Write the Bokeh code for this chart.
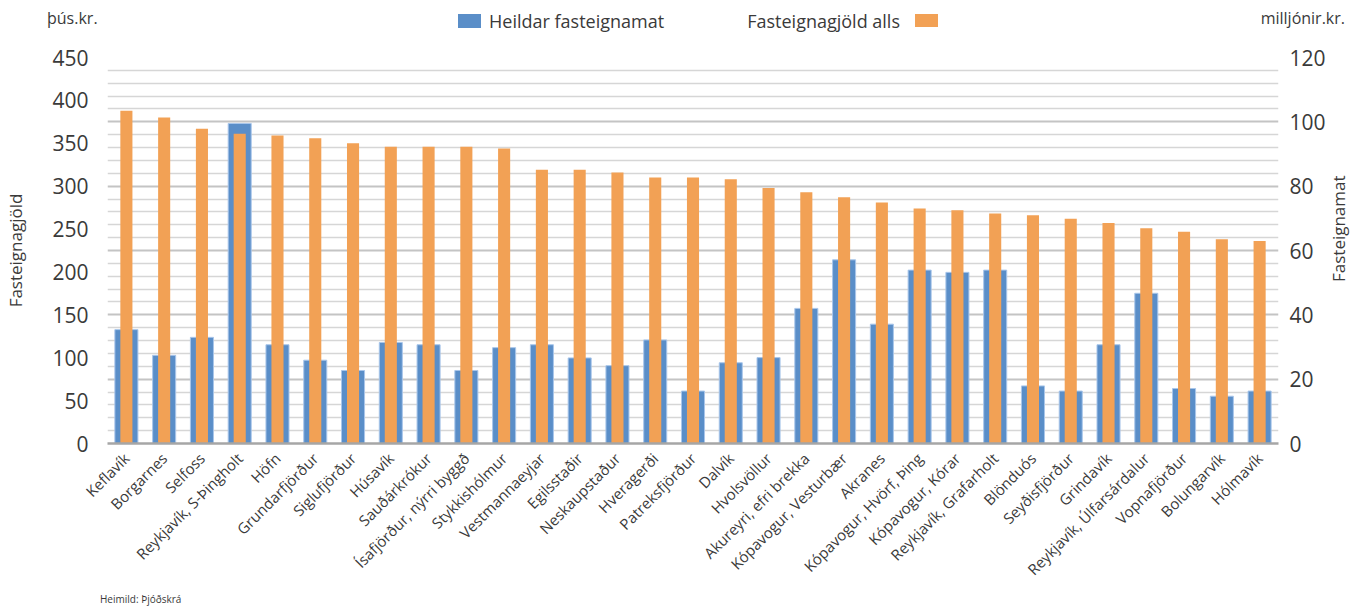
import math
from bokeh.plotting import figure
from bokeh.layouts import column, row
from bokeh.models import FactorRange, Range1d, LinearAxis, FixedTicker, Grid, Div
from bokeh.embed import file_html
from bokeh.resources import INLINE

categories = [
    "Keflavík", "Borgarnes", "Selfoss", "Reykjavík, S-Þingholt", "Höfn",
    "Grundarfjörður", "Siglufjörður", "Húsavík", "Sauðárkrókur",
    "Ísafjörður, nýrri byggð", "Stykkishólmur", "Vestmannaeyjar", "Egilsstaðir",
    "Neskaupstaður", "Hveragerði", "Patreksfjörður", "Dalvík", "Hvolsvöllur",
    "Akureyri, efri brekka", "Kópavogur, Vesturbær", "Akranes",
    "Kópavogur, Hvörf, Þing", "Kópavogur, Kórar", "Reykjavík, Grafarholt",
    "Blönduós", "Seyðisfjörður", "Grindavík", "Reykjavík, Úlfarsárdalur",
    "Vopnafjörður", "Bolungarvík", "Hólmavík",
]

# Fasteignagjöld alls (þús.kr., left axis)
fasteignagjold = [388, 380, 367, 361, 359, 356, 350, 346, 346, 346, 344,
                  319, 319, 316, 310, 310, 308, 298, 293, 287, 281,
                  274, 272, 268, 266, 262, 257, 251, 247, 238, 236]

# Heildar fasteignamat (milljónir kr., right axis)
fasteignamat = [35.4, 27.4, 33.0, 99.5, 30.7, 25.9, 22.7, 31.4, 30.7, 22.7, 29.8,
                30.7, 26.6, 24.2, 32.2, 16.3, 25.1, 26.7, 42.0, 57.1, 37.1,
                53.9, 53.2, 53.9, 17.9, 16.3, 30.7, 46.7, 17.1, 14.7, 16.3]

left_ticks = [0, 50, 100, 150, 200, 250, 300, 350, 400, 450]
right_ticks = [0, 20, 40, 60, 80, 100, 120]

series_names = ["Heildar fasteignamat", "Fasteignagjöld alls"]
left_unit = "þús.kr."
right_unit = "milljónir.kr."
left_title = "Fasteignagjöld"
right_title = "Fasteignamat"
source_note = "Heimild: Þjóðskrá"

BLUE = "#5A8EC8"
BLUE_EDGE = "#A9C6EA"
ORANGE = "#F2A155"
TXT = "#3a3a3a"
FONT = "Open Sans"

W = 1350
HEAD_H = 40
MAIN_H = 553
FOOT_H = 606 - HEAD_H - MAIN_H
RIGHT_W = 22
MAIN_W = W - RIGHT_W


def span(text, left=None, right=None, top=0, size=16):
    pos = f"left:{left}px;" if left is not None else f"right:{right}px;"
    return (f'<span style="position:absolute;{pos}top:{top}px;font-family:\'{FONT}\';'
            f'font-size:{size}px;line-height:{size}px;color:{TXT};white-space:nowrap;">'
            f'{text}</span>')


def box(left, top, w, h, color):
    return (f'<span style="position:absolute;left:{left}px;top:{top}px;width:{w}px;'
            f'height:{h}px;background:{color};"></span>')


def panel(html, w, h):
    inner = (f'<div style="position:relative;width:{w}px;height:{h}px;'
             f'overflow:visible;margin:0;padding:0;">{html}</div>')
    return Div(text=inner, width=w, height=h, margin=0)


# ---------- header: units + legend ----------
head_html = (span(left_unit, left=47, top=10, size=16)
             + box(458, 14, 23, 14, BLUE)
             + span(series_names[0], left=489, top=12, size=18)
             + span(series_names[1], right=W - 900, top=12, size=18)
             + box(915, 14, 23, 13, ORANGE)
             + span(right_unit, right=5, top=10, size=16))
head = panel(head_html, W, HEAD_H)

# ---------- main chart ----------
FL, FR = 107, 1278
FT = 57 - HEAD_H
FB = 443 - HEAD_H

p = figure(x_range=FactorRange(*categories), y_range=Range1d(0, 450),
           width=MAIN_W, height=MAIN_H, output_backend="svg",
           toolbar_location=None,
           min_border_left=FL, min_border_right=MAIN_W - FR,
           min_border_top=FT, min_border_bottom=MAIN_H - FB)
p.extra_y_ranges = {"right": Range1d(0, 120)}
p.outline_line_color = None
p.background_fill_color = "white"
p.border_fill_color = "white"

p.xgrid.visible = False
p.ygrid.visible = False
minor = [k * 15 for k in range(0, 31) if k % 5 != 0]
major = [k * 75 for k in range(1, 7)]
p.add_layout(Grid(dimension=1, ticker=FixedTicker(ticks=minor),
                  grid_line_color="#d6d6d6", grid_line_width=1.5))
p.add_layout(Grid(dimension=1, ticker=FixedTicker(ticks=major),
                  grid_line_color="#c4c4c4", grid_line_width=2))

p.vbar(x=categories, top=fasteignamat, width=0.61, y_range_name="right",
       fill_color=BLUE, line_color=BLUE_EDGE, line_width=1)
p.vbar(x=categories, top=fasteignagjold, width=0.32,
       fill_color=ORANGE, line_color=None)

la = p.left[0]
la.ticker = FixedTicker(ticks=left_ticks)
ra = LinearAxis(y_range_name="right", ticker=FixedTicker(ticks=right_ticks))
p.add_layout(ra, "right")
for ax, so in ((la, 19), (ra, 11)):
    ax.axis_line_color = None
    ax.major_tick_line_color = None
    ax.minor_tick_line_color = None
    ax.major_tick_out = 0
    ax.major_tick_in = 0
    ax.minor_tick_out = 0
    ax.minor_tick_in = 0
    ax.major_label_standoff = so
    ax.major_label_text_font = FONT
    ax.major_label_text_font_size = "21px"
    ax.major_label_text_color = TXT

la.axis_label = left_title
la.axis_label_standoff = 22
la.axis_label_text_font = FONT
la.axis_label_text_font_size = "17px"
la.axis_label_text_font_style = "normal"
la.axis_label_text_color = TXT

xa = p.below[0]
xa.axis_line_color = "#a6a6a6"
xa.axis_line_width = 2.5
xa.major_tick_line_color = None
xa.minor_tick_line_color = None
xa.major_tick_out = 0
xa.major_tick_in = 0
xa.major_label_orientation = math.pi / 4
xa.major_label_standoff = 12
xa.major_label_text_font = FONT
xa.major_label_text_font_size = "15px"
xa.major_label_text_color = TXT

# ---------- right axis title (reads bottom to top) ----------
rt_html = (f'<span style="position:absolute;left:0px;top:{229 - HEAD_H - 52}px;'
           f'width:{RIGHT_W}px;height:104px;display:flex;align-items:center;'
           f'justify-content:center;writing-mode:vertical-rl;transform:rotate(180deg);'
           f'font-family:\'{FONT}\';font-size:17px;color:{TXT};white-space:nowrap;">'
           f'{right_title}</span>')
rtitle = panel(rt_html, RIGHT_W, MAIN_H)

# ---------- footer: source ----------
foot = panel(span(source_note, left=100, top=max(FOOT_H // 2 - 5, 0), size=10), W, FOOT_H)

layout = column(head, row(p, rtitle, spacing=0), foot, spacing=0)
open("out.html", "w").write(file_html(layout, INLINE))
